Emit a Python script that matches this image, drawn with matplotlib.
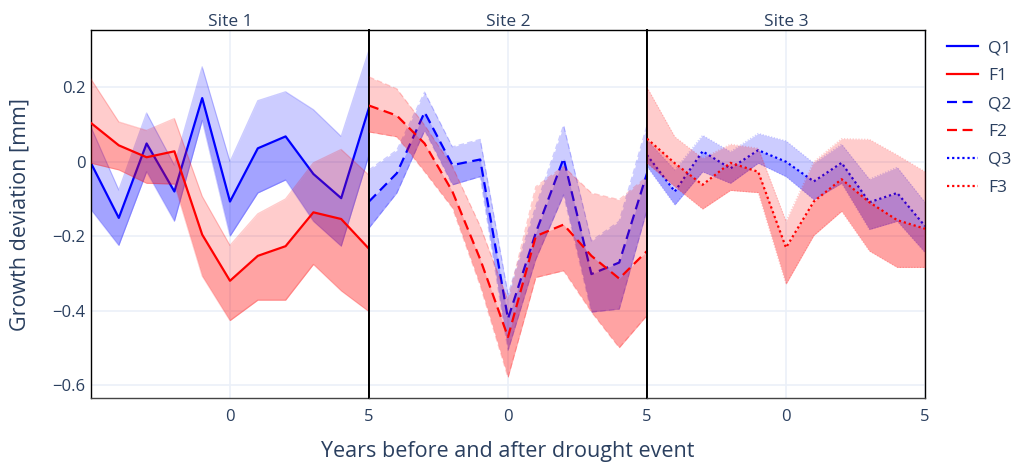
import matplotlib
matplotlib.use("Agg")
import matplotlib.pyplot as plt
import numpy as np

plt.rcParams['font.family'] = ['Open Sans', 'DejaVu Sans']

years = [-5, -4, -3, -2, -1, 0, 1, 2, 3, 4, 5]
sites = ["Site 1", "Site 2", "Site 3"]
y_ticks = [-0.6, -0.4, -0.2, 0, 0.2]
y_tick_labels = ["\u22120.6", "\u22120.4", "\u22120.2", "0", "0.2"]
x_ticks = [0, 5]

# Site 1
q1_mean = [-0.004, -0.151, 0.049, -0.080, 0.171, -0.107, 0.036, 0.068, -0.033, -0.098, 0.145]
q1_upper = [0.093, -0.076, 0.131, -0.009, 0.255, 0.000, 0.164, 0.188, 0.140, 0.068, 0.300]
q1_lower = [-0.129, -0.225, -0.027, -0.160, 0.111, -0.200, -0.084, -0.049, -0.160, -0.227, 0.018]
f1_mean = [0.104, 0.044, 0.012, 0.028, -0.196, -0.320, -0.253, -0.227, -0.136, -0.154, -0.234]
f1_upper = [0.222, 0.107, 0.084, 0.116, -0.093, -0.225, -0.140, -0.100, -0.003, 0.033, -0.036]
f1_lower = [-0.004, -0.022, -0.058, -0.060, -0.307, -0.427, -0.372, -0.372, -0.276, -0.347, -0.403]

# Site 2
q2_mean = [-0.107, -0.031, 0.133, -0.009, 0.006, -0.422, -0.191, 0.009, -0.302, -0.271, -0.031]
q2_upper = [-0.022, 0.031, 0.187, 0.040, 0.060, -0.356, -0.120, 0.098, -0.213, -0.160, 0.098]
q2_lower = [-0.178, -0.084, 0.084, -0.062, -0.040, -0.507, -0.262, -0.089, -0.404, -0.396, -0.129]
f2_mean = [0.151, 0.124, 0.049, -0.080, -0.262, -0.471, -0.200, -0.169, -0.253, -0.314, -0.240]
f2_upper = [0.228, 0.196, 0.098, -0.013, -0.173, -0.373, -0.067, -0.013, -0.084, -0.102, -0.040]
f2_lower = [0.080, 0.067, -0.027, -0.124, -0.333, -0.580, -0.311, -0.293, -0.404, -0.500, -0.413]

# Site 3
q3_mean = [0.018, -0.080, 0.028, -0.018, 0.031, 0.000, -0.053, -0.003, -0.109, -0.084, -0.173]
q3_upper = [0.058, -0.022, 0.071, 0.027, 0.076, 0.056, -0.004, 0.047, -0.047, -0.015, -0.109]
q3_lower = [-0.013, -0.116, -0.027, -0.058, -0.004, -0.040, -0.102, -0.058, -0.182, -0.160, -0.244]
f3_mean = [0.062, -0.004, -0.062, -0.003, -0.027, -0.231, -0.107, -0.047, -0.109, -0.157, -0.180]
f3_upper = [0.200, 0.067, 0.009, 0.047, 0.036, -0.160, 0.000, 0.062, 0.060, 0.018, -0.027]
f3_lower = [-0.004, -0.067, -0.127, -0.077, -0.083, -0.329, -0.198, -0.133, -0.240, -0.284, -0.284]

series = [
    [("Q1", q1_mean, q1_upper, q1_lower, "blue"), ("F1", f1_mean, f1_upper, f1_lower, "red")],
    [("Q2", q2_mean, q2_upper, q2_lower, "blue"), ("F2", f2_mean, f2_upper, f2_lower, "red")],
    [("Q3", q3_mean, q3_upper, q3_lower, "blue"), ("F3", f3_mean, f3_upper, f3_lower, "red")],
]
styles = ['-', (0, (4.5, 2.5)), (0, (1, 1.3))]

txt = "#2a3f5f"
grid_c = "#ebf0f8"
W, H = 1021, 473
fig = plt.figure(figsize=(W / 100, H / 100), dpi=100)

left, right, top, bottom = 91, 925, 30, 398
pw = (right - left) / 3
axes = []
handles = []
for i in range(3):
    ax = fig.add_axes([(left + i * pw) / W, 1 - bottom / H, pw / W, (bottom - top) / H])
    axes.append(ax)
    ax.set_xlim(-5, 5)
    ax.set_ylim(-0.635, 0.354)
    ax.set_xticks(x_ticks)
    ax.set_yticks(y_ticks)
    ax.grid(True, color=grid_c, linewidth=1.2, zorder=0)
    ax.set_axisbelow(True)
    ax.tick_params(length=0, labelsize=12, colors=txt, pad=8)
    ax.tick_params(axis='y', pad=4)
    if i == 0:
        ax.set_yticklabels(y_tick_labels)
    else:
        ax.set_yticklabels([])
    for s in ax.spines.values():
        s.set_color("black")
        s.set_linewidth(1.0)
    ax.spines['left'].set_linewidth(1.4 if i > 0 else 1.0)
    ax.spines['right'].set_linewidth(1.4 if i < 2 else 1.0)
    ax.spines['bottom'].set_color("#444444")
    ax.set_title(sites[i], fontsize=12.5, color=txt, pad=3)
    ls = styles[i]
    z = 2
    for (name, m, up, lo, col) in series[i]:
        ax.fill_between(years, lo, up, color=col, alpha=0.2, linewidth=0, zorder=z)
        ax.plot(years, up, color=col, alpha=0.2, linewidth=0.9, linestyle=ls, zorder=z)
        ax.plot(years, lo, color=col, alpha=0.2, linewidth=0.9, linestyle=ls, zorder=z)
        ax.fill_between(years, lo, m, color=col, alpha=0.2, linewidth=0, zorder=z + 0.1)
        h, = ax.plot(years, m, color=col, linewidth=1.6, linestyle=ls, zorder=z + 0.2,
                     label=name)
        handles.append(h)
        z += 1

fig.text(20 / W, 1 - ((top + bottom) / 2) / H, "Growth deviation [mm]", rotation=90,
         ha='center', va='center', fontsize=15.5, color=txt)
fig.text(((left + right) / 2) / W, 1 - 451 / H, "Years before and after drought event",
         ha='center', va='center', fontsize=15.5, color=txt)

leg = fig.legend(handles=handles, loc='upper left', bbox_to_anchor=(947 / W, 1 - 40 / H),
                 frameon=False, fontsize=12.5, labelcolor=txt, handlelength=1.8,
                 handletextpad=0.55, labelspacing=0.68, borderpad=0, borderaxespad=0)

fig.savefig("out.png", dpi=100)
